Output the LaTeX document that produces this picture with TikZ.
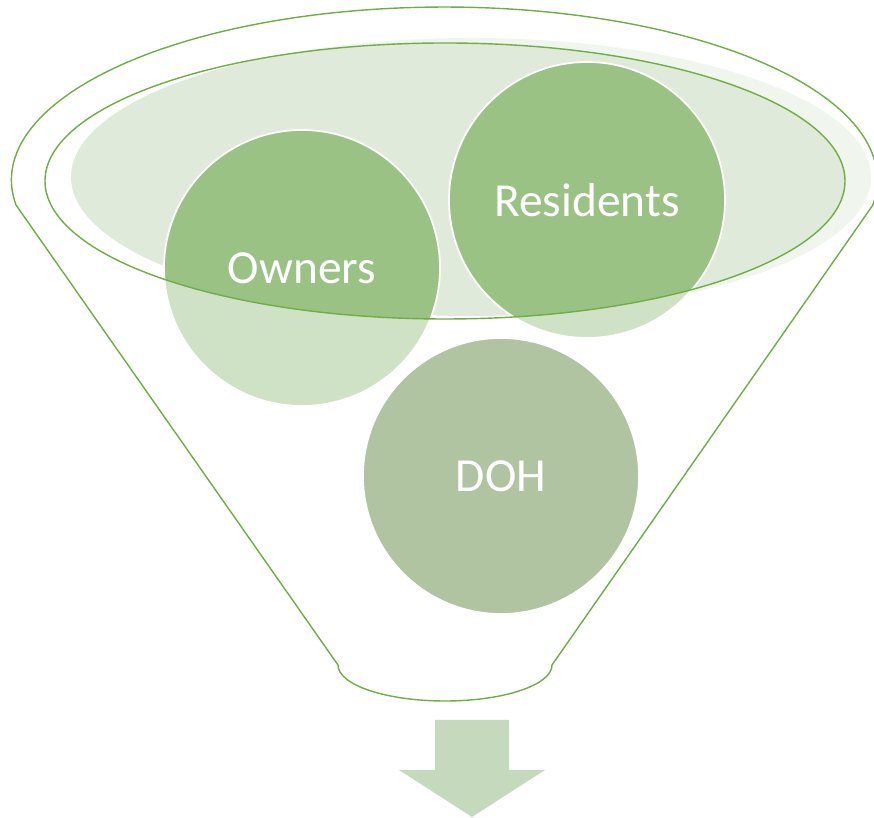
\documentclass[tikz,border=0pt]{standalone}
\usepackage{fontspec}
\setmainfont{Carlito}
\usepackage{tikz}
\usepackage{xcolor}

\definecolor{funnelgreen}{HTML}{70AD47}
\definecolor{ballgreen}{HTML}{9BC285}
\definecolor{mouthfill}{HTML}{E0EADB}
\definecolor{dohgreen}{HTML}{B0C4A2}
\definecolor{arrowgreen}{HTML}{C5D9BC}

\begin{document}
\begin{tikzpicture}[
  x=0.03cm, y=0.03cm,
  font=\fontsize{40.5}{48}\selectfont,
  ball/.style={circle, draw=white, line width=1.5pt, fill=ballgreen, text=white, minimum size=8.28cm, inner sep=0pt},
  rim/.style={draw=funnelgreen, line width=1.2pt}
]
\useasboundingbox (0,0) rectangle (874,817);

% Mouth of the funnel (shaded ellipse)
\fill[mouthfill] (471,640) ellipse [x radius=400, y radius=139];

% Circles in the mouth
\node[ball] (owners) at (302,549) {Owners};
\node[ball] (residents) at (587,617) {Residents};

% Funnel body (half transparent, open at the mouth) and its outline
\path[rim, fill=white, fill opacity=0.53, even odd rule]
  (16,612) arc[start angle=188.3, end angle=-8.3, x radius=433, y radius=173]
  -- (552,152) arc[start angle=360, end angle=180, x radius=107, y radius=36]
  -- cycle
  (445,636) ellipse [x radius=400, y radius=138];

% Circle inside the funnel
\node[ball, fill=dohgreen] (doh) at (501,341) {DOH};

% Output arrow
\fill[arrowgreen] (435,97) -- (509,97) -- (509,47) -- (545,47) -- (472,0)
  -- (399,47) -- (435,47) -- cycle;

\end{tikzpicture}
\end{document}
